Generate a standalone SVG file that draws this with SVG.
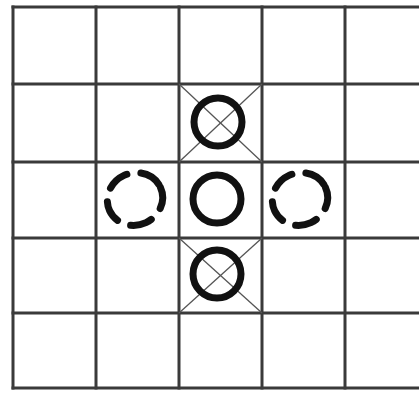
<svg xmlns="http://www.w3.org/2000/svg" width="419" height="395" viewBox="0 0 419 395">
<style>
.grid{stroke:#3a3a3a;stroke-width:3;fill:none;stroke-linecap:square}
.thin{stroke:#555;stroke-width:1.3;fill:none}
.ring{stroke:#111;stroke-width:7;fill:none}
.dash{stroke:#111;stroke-width:7;fill:none;stroke-dasharray:22 14;stroke-linecap:round}
</style>
<rect width="419" height="395" fill="#fff"/>
<g id="grid" class="grid">
<line x1="13" y1="7" x2="419" y2="7"/>
<line x1="13" y1="84" x2="419" y2="84"/>
<line x1="13" y1="162" x2="419" y2="162"/>
<line x1="13" y1="238" x2="419" y2="238"/>
<line x1="13" y1="313" x2="419" y2="313"/>
<line x1="13" y1="388" x2="419" y2="388"/>
<line x1="13" y1="7" x2="13" y2="388"/>
<line x1="96" y1="7" x2="96" y2="388"/>
<line x1="179" y1="7" x2="179" y2="388"/>
<line x1="262" y1="7" x2="262" y2="388"/>
<line x1="345" y1="7" x2="345" y2="388"/>
</g>
<g id="connectors" class="thin">
<line x1="179" y1="84" x2="262" y2="162"/>
<line x1="262" y1="84" x2="179" y2="162"/>
<line x1="179" y1="238" x2="262" y2="313"/>
<line x1="262" y1="238" x2="179" y2="313"/>
</g>
<g id="node-top"><circle class="ring" cx="218" cy="122" r="24"/></g>
<g id="node-center"><circle class="ring" cx="217" cy="199" r="24"/></g>
<g id="node-bottom"><circle class="ring" cx="217" cy="274" r="24"/></g>
<g id="node-left"><ellipse class="dash" cx="135" cy="199" rx="28" ry="26" transform="rotate(-25 135 199)"/></g>
<g id="node-right"><ellipse class="dash" cx="300" cy="199" rx="28" ry="26" transform="rotate(-25 300 199)"/></g>
</svg>
